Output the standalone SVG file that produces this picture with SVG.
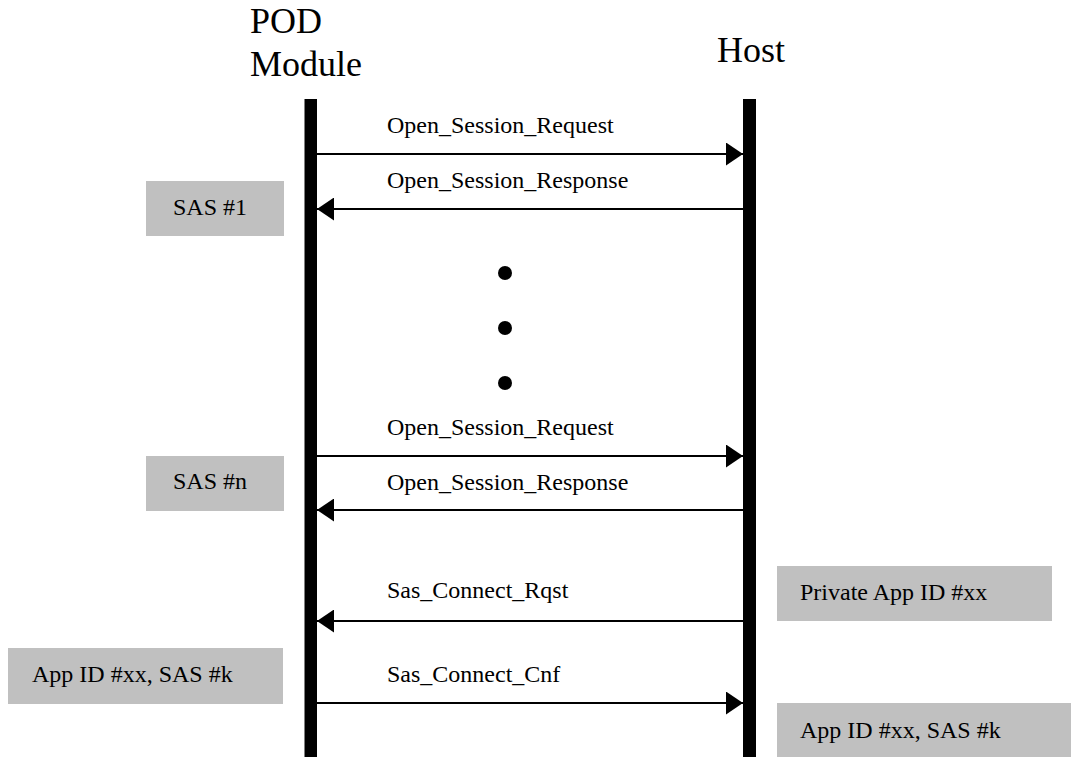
<svg xmlns="http://www.w3.org/2000/svg" width="1071" height="757" viewBox="0 0 1071 757">
<style>
  text { font-family: "Liberation Serif", "Times New Roman", serif; fill: #000; }
  .title { font-size: 36px; }
  .lbl { font-size: 24px; }
  .box { fill: #c0c0c0; stroke: none; }
  .life { fill: #000; }
  .msg { stroke: #000; stroke-width: 2; fill: none; marker-end: url(#arr); }
</style>
<defs>
  <marker id="arr" markerUnits="userSpaceOnUse" markerWidth="17" markerHeight="23" refX="17" refY="11.5" orient="auto" viewBox="0 0 17 23">
    <path d="M0,0 L17,11.5 L0,23 z" fill="#000"/>
  </marker>
</defs>
<rect width="1071" height="757" fill="#fff"/>

<g id="pod">
  <text class="title" x="250" y="33">POD</text>
  <text class="title" x="250" y="76">Module</text>
  <rect class="life" x="304.5" y="99" width="12.5" height="658"/>
</g>
<g id="host">
  <text class="title" x="717" y="62">Host</text>
  <rect class="life" x="743" y="99" width="13" height="658"/>
</g>

<g id="sas1">
  <rect class="box" x="146" y="181" width="138" height="55"/>
  <text class="lbl" x="173" y="215">SAS #1</text>
</g>
<g id="sasn">
  <rect class="box" x="146" y="456" width="138" height="55"/>
  <text class="lbl" x="173" y="489">SAS #n</text>
</g>
<g id="appid-left">
  <rect class="box" x="8" y="648" width="275" height="56"/>
  <text class="lbl" x="32" y="682">App ID #xx, SAS #k</text>
</g>
<g id="private-appid">
  <rect class="box" x="777" y="566" width="275" height="55"/>
  <text class="lbl" x="800" y="600">Private App ID #xx</text>
</g>
<g id="appid-right">
  <rect class="box" x="777" y="703" width="294" height="54"/>
  <text class="lbl" x="800" y="738">App ID #xx, SAS #k</text>
</g>

<g id="ellipsis">
  <circle cx="505" cy="273" r="7" fill="#000"/>
  <circle cx="505" cy="328" r="7" fill="#000"/>
  <circle cx="505" cy="383" r="7" fill="#000"/>
</g>

<g id="connectors">
  <line class="msg" x1="317" y1="154" x2="743" y2="154"/>
  <text class="lbl" x="387" y="133">Open_Session_Request</text>
  <line class="msg" x1="743" y1="209" x2="317" y2="209"/>
  <text class="lbl" x="387" y="188">Open_Session_Response</text>
  <line class="msg" x1="317" y1="456" x2="743" y2="456"/>
  <text class="lbl" x="387" y="435">Open_Session_Request</text>
  <line class="msg" x1="743" y1="510" x2="317" y2="510"/>
  <text class="lbl" x="387" y="490">Open_Session_Response</text>
  <line class="msg" x1="743" y1="621" x2="317" y2="621"/>
  <text class="lbl" x="387" y="598">Sas_Connect_Rqst</text>
  <line class="msg" x1="317" y1="703" x2="743" y2="703"/>
  <text class="lbl" x="387" y="682">Sas_Connect_Cnf</text>
</g>
</svg>
